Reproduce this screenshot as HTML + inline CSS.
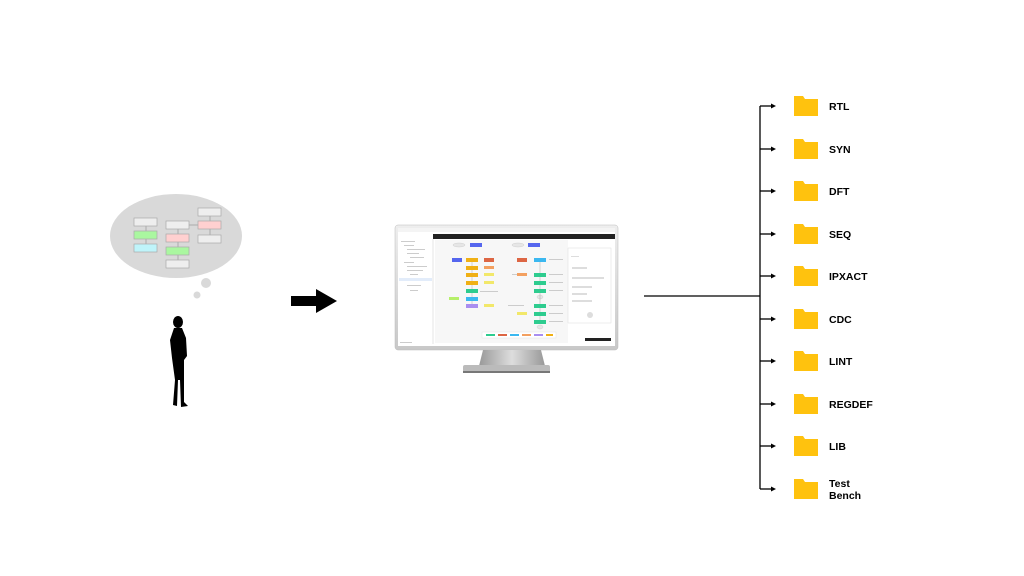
<!DOCTYPE html>
<html><head><style>
html,body{margin:0;padding:0;background:#fff;}
svg{display:block;}
text{font-family:"Liberation Sans",sans-serif;}
</style></head><body>
<svg width="1024" height="576" viewBox="0 0 1024 576" xmlns="http://www.w3.org/2000/svg">
<defs>
<linearGradient id="bez" x1="0" y1="0" x2="0" y2="1"><stop offset="0" stop-color="#eee"/><stop offset="1" stop-color="#c8c8c8"/></linearGradient>
<linearGradient id="neck" x1="0" y1="0" x2="1" y2="0"><stop offset="0" stop-color="#999"/><stop offset="0.5" stop-color="#ddd"/><stop offset="1" stop-color="#999"/></linearGradient>
</defs>
<!-- thought bubble -->
<ellipse cx="176" cy="236" rx="66" ry="42" fill="#d9d9d9"/>
<circle cx="206" cy="283" r="5" fill="#d9d9d9"/>
<circle cx="197" cy="295" r="3.5" fill="#d9d9d9"/>
<g stroke="#999" stroke-width="0.7">
<line x1="146" y1="222" x2="146" y2="248"/><line x1="178" y1="225" x2="178" y2="262"/><line x1="210" y1="211" x2="210" y2="239"/><line x1="189" y1="225" x2="198" y2="225"/>
</g>
<g stroke="#aaa" stroke-width="0.7">
<rect x="134" y="218" width="23" height="8" fill="#eee"/>
<rect x="134" y="231" width="23" height="8" fill="#aaf7a0"/>
<rect x="134" y="244" width="23" height="8" fill="#bff4fa"/>
<rect x="166" y="221" width="23" height="8" fill="#eee"/>
<rect x="166" y="234" width="23" height="8" fill="#ffd0d0"/>
<rect x="166" y="247" width="23" height="8" fill="#aaf7a0"/>
<rect x="166" y="260" width="23" height="8" fill="#eee"/>
<rect x="198" y="208" width="23" height="8" fill="#eee"/>
<rect x="198" y="221" width="23" height="8" fill="#ffd0d0"/>
<rect x="198" y="235" width="23" height="8" fill="#eee"/>
</g>
<!-- person silhouette -->
<g fill="#000">
<ellipse cx="178" cy="322" rx="5" ry="6"/>
<path d="M174 328 L182 328 L186 338 L187 356 L184 360 L184 402 L188 406 L181 407 L180 380 L178 380 L177 406 L173 405 L175 380 L172 358 L170 340 Z"/>
</g>
<!-- arrow -->
<path d="M291 296 L316 296 L316 289 L337 301 L316 313 L316 306 L291 306 Z" fill="#000"/>
<!-- monitor -->
<rect x="395" y="225" width="223" height="125" rx="3" fill="url(#bez)" stroke="#bbb" stroke-width="0.5"/>
<rect x="398" y="228" width="217" height="118" fill="#fff"/>
<rect x="433" y="234" width="182" height="5" fill="#222"/>
<rect x="398" y="228" width="217" height="4" fill="#f4f4f4"/>
<line x1="433" y1="239" x2="433" y2="344" stroke="#ccc" stroke-width="0.5"/>
<g fill="#ccc"><rect x="401" y="241" width="14" height="1"/><rect x="404" y="245" width="10" height="1"/><rect x="407" y="249" width="18" height="1"/><rect x="407" y="253" width="12" height="1"/><rect x="410" y="257" width="14" height="1"/><rect x="404" y="262" width="10" height="1"/><rect x="407" y="266" width="20" height="1"/><rect x="407" y="270" width="16" height="1"/><rect x="410" y="274" width="8" height="1"/><rect x="404" y="280" width="10" height="1"/><rect x="407" y="285" width="14" height="1"/><rect x="410" y="290" width="8" height="1"/><rect x="400" y="342" width="12" height="1"/></g>
<rect x="399" y="278" width="33" height="3" fill="#e2ecfa"/>
<rect x="435" y="240" width="133" height="103" fill="#f7f7f7"/>
<rect x="568" y="248" width="43" height="75" fill="#fff" stroke="#ddd" stroke-width="0.5"/>
<g fill="#ddd"><rect x="571" y="256" width="8" height="1"/><rect x="572" y="267" width="15" height="2"/><rect x="572" y="277" width="32" height="2"/><rect x="572" y="286" width="20" height="2"/><rect x="572" y="293" width="15" height="2"/><rect x="572" y="300" width="20" height="2"/><circle cx="590" cy="315" r="3"/></g>
<g fill="#e6e6e6" stroke="#bbb" stroke-width="0.3"><ellipse cx="459" cy="245" rx="6" ry="2"/><ellipse cx="518" cy="245" rx="6" ry="2"/><ellipse cx="540" cy="297" rx="3" ry="2"/><ellipse cx="540" cy="327" rx="3" ry="2"/></g>
<g fill="#ccc"><rect x="480" y="291" width="18" height="1"/><rect x="549" y="259" width="14" height="1"/><rect x="549" y="274" width="14" height="1"/><rect x="549" y="282" width="14" height="1"/><rect x="549" y="290" width="14" height="1"/><rect x="549" y="305" width="14" height="1"/><rect x="549" y="313" width="14" height="1"/><rect x="549" y="321" width="14" height="1"/><rect x="512" y="274" width="14" height="1"/><rect x="508" y="305" width="16" height="1"/></g>
<line x1="472" y1="258" x2="472" y2="308" stroke="#999" stroke-width="0.4"/>
<line x1="540" y1="258" x2="540" y2="324" stroke="#999" stroke-width="0.4"/>
<g fill="#f0b014"><rect x="466" y="258" width="12" height="4"/><rect x="466" y="266" width="12" height="4"/><rect x="466" y="273" width="12" height="4"/><rect x="466" y="281" width="12" height="4"/></g>
<g fill="#f3a060"><rect x="484" y="266" width="10" height="3"/></g>
<g fill="#f2e86a"><rect x="484" y="273" width="10" height="3"/><rect x="484" y="281" width="10" height="3"/><rect x="484" y="304" width="10" height="3"/><rect x="517" y="312" width="10" height="3"/></g>
<rect x="449" y="297" width="10" height="3" fill="#b6f06a"/>
<rect x="517" y="273" width="10" height="3" fill="#f3a060"/>
<rect x="517" y="258" width="10" height="4" fill="#dd6644"/>
<rect x="466" y="289" width="12" height="4" fill="#2ecc8f"/><rect x="466" y="297" width="12" height="4" fill="#3bb8f0"/><rect x="466" y="304" width="12" height="4" fill="#a98ef0"/>
<g fill="#2ecc8f"><rect x="534" y="273" width="12" height="4"/><rect x="534" y="281" width="12" height="4"/><rect x="534" y="289" width="12" height="4"/><rect x="534" y="304" width="12" height="4"/><rect x="534" y="312" width="12" height="4"/><rect x="534" y="320" width="12" height="4"/></g>
<rect x="534" y="258" width="12" height="4" fill="#3bb8f0"/>
<rect x="452" y="258" width="10" height="4" fill="#5566ee"/><rect x="484" y="258" width="10" height="4" fill="#dd6644"/>
<rect x="470" y="243" width="12" height="4" fill="#5566ee"/><rect x="528" y="243" width="12" height="4" fill="#5566ee"/>
<rect x="482" y="332" width="74" height="6" fill="#fff" stroke="#ddd" stroke-width="0.4"/>
<g><rect x="486" y="334" width="9" height="2" fill="#2ecc8f"/><rect x="498" y="334" width="9" height="2" fill="#dd6644"/><rect x="510" y="334" width="9" height="2" fill="#3bb8f0"/><rect x="522" y="334" width="9" height="2" fill="#f3a060"/><rect x="534" y="334" width="9" height="2" fill="#a98ef0"/><rect x="546" y="334" width="7" height="2" fill="#f0b014"/></g>
<rect x="585" y="338" width="26" height="3" fill="#222"/>
<!-- stand -->
<path d="M483 350 L541 350 L545 366 L479 366 Z" fill="url(#neck)"/>
<rect x="463" y="365" width="87" height="8" rx="2" fill="#bbb"/>
<rect x="463" y="371" width="87" height="2" fill="#777"/>
<!-- connectors -->
<g stroke="#000" stroke-width="1.3" fill="none">
<line x1="644" y1="296" x2="760" y2="296"/>
<line x1="760" y1="106" x2="760" y2="489"/>
</g>
<g stroke="#000" stroke-width="1.3">
<line x1="760" y1="106" x2="772" y2="106"/><line x1="760" y1="149" x2="772" y2="149"/><line x1="760" y1="191" x2="772" y2="191"/><line x1="760" y1="234" x2="772" y2="234"/><line x1="760" y1="276" x2="772" y2="276"/><line x1="760" y1="319" x2="772" y2="319"/><line x1="760" y1="361" x2="772" y2="361"/><line x1="760" y1="404" x2="772" y2="404"/><line x1="760" y1="446" x2="772" y2="446"/><line x1="760" y1="489" x2="772" y2="489"/>
</g>
<g fill="#000">
<path d="M771 103.5 L776 106 L771 108.5Z"/><path d="M771 146.5 L776 149 L771 151.5Z"/><path d="M771 188.5 L776 191 L771 193.5Z"/><path d="M771 231.5 L776 234 L771 236.5Z"/><path d="M771 273.5 L776 276 L771 278.5Z"/><path d="M771 316.5 L776 319 L771 321.5Z"/><path d="M771 358.5 L776 361 L771 363.5Z"/><path d="M771 401.5 L776 404 L771 406.5Z"/><path d="M771 443.5 L776 446 L771 448.5Z"/><path d="M771 486.5 L776 489 L771 491.5Z"/>
</g>
<g fill="#ffc20e">
<path d="M794 96 h9 l2 3 h13 v17 h-24Z"/>
<path d="M794 139 h9 l2 3 h13 v17 h-24Z"/>
<path d="M794 181 h9 l2 3 h13 v17 h-24Z"/>
<path d="M794 224 h9 l2 3 h13 v17 h-24Z"/>
<path d="M794 266 h9 l2 3 h13 v17 h-24Z"/>
<path d="M794 309 h9 l2 3 h13 v17 h-24Z"/>
<path d="M794 351 h9 l2 3 h13 v17 h-24Z"/>
<path d="M794 394 h9 l2 3 h13 v17 h-24Z"/>
<path d="M794 436 h9 l2 3 h13 v17 h-24Z"/>
<path d="M794 479 h9 l2 3 h13 v17 h-24Z"/>
</g>
<g font-weight="bold" font-size="10.5" fill="#000">
<text x="829" y="110">RTL</text><text x="829" y="153">SYN</text><text x="829" y="195">DFT</text><text x="829" y="238">SEQ</text><text x="829" y="280">IPXACT</text><text x="829" y="323">CDC</text><text x="829" y="365">LINT</text><text x="829" y="408">REGDEF</text><text x="829" y="450">LIB</text><text x="829" y="487">Test</text><text x="829" y="499">Bench</text>
</g>
</svg>
</body></html>
